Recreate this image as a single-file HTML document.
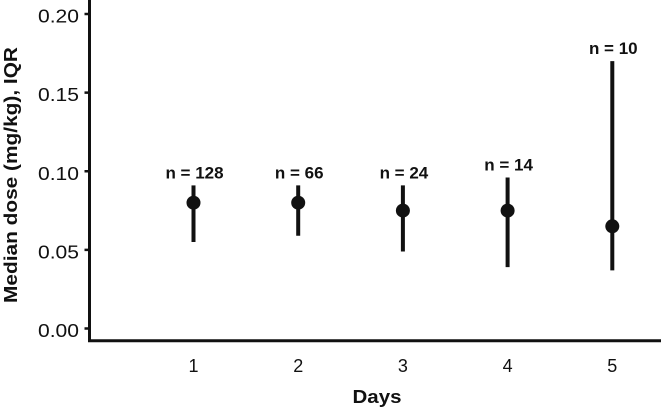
<!DOCTYPE html>
<html><head><meta charset="utf-8"><style>html,body{margin:0;padding:0;background:#fff}svg{display:block}</style></head>
<body>
<svg id="chart" width="662" height="409" xmlns="http://www.w3.org/2000/svg" font-family="Liberation Sans, sans-serif">
<g id="axes"></g>
<g id="marks"></g>
<text transform="translate(17,175) rotate(-90)" text-anchor="middle" font-size="18" font-weight="bold" fill="#111" textLength="256" lengthAdjust="spacingAndGlyphs">Median dose (mg/kg), IQR</text>
<text x="377" y="403" text-anchor="middle" font-size="18" font-weight="bold" fill="#111" textLength="49" lengthAdjust="spacingAndGlyphs">Days</text>
</svg>
<script>
const days = [1, 2, 3, 4, 5];
const medians = [0.080, 0.080, 0.075, 0.075, 0.065];
const q1 = [0.055, 0.059, 0.049, 0.039, 0.037];
const q3 = [0.091, 0.091, 0.091, 0.096, 0.170];
const nLabels = ["n = 128", "n = 66", "n = 24", "n = 14", "n = 10"];
const yTicks = [0, 0.05, 0.10, 0.15, 0.20];
const yTickLabels = ["0.00", "0.05", "0.10", "0.15", "0.20"];

const NS = "http://www.w3.org/2000/svg";
const xScale = d => 193.5 + (d - 1) * 104.7;
const yScale = v => 328.5 - v * 1572.5;
function mk(tag, attrs, parent) {
  const e = document.createElementNS(NS, tag);
  for (const k in attrs) e.setAttribute(k, attrs[k]);
  parent.appendChild(e);
  return e;
}
const axes = document.getElementById('axes');
const marks = document.getElementById('marks');
let l = mk('line', {x1: 89.5, y1: 0, x2: 89.5, y2: 342, stroke: '#111', 'stroke-width': 3}, axes);


l = mk('line', {x1: 88, y1: 340.7, x2: 661, y2: 340.7, stroke: '#111', 'stroke-width': 3}, axes);


yTicks.forEach((v, i) => {
  const y = yScale(v);
  const t = mk('line', {x1: 84.5, y1: y, x2: 89.5, y2: y, stroke: '#111', 'stroke-width': 2.5}, axes);
  
  
  const tx = mk('text', {x: 79, y: y + 8.5, 'text-anchor': 'end', 'font-size': 18, fill: '#111', textLength: 41, lengthAdjust: 'spacingAndGlyphs'}, axes);
  tx.textContent = yTickLabels[i];
  
  
});
days.forEach((d, i) => {
  const x = xScale(d);
  const tx = mk('text', {x: x, y: 372, 'text-anchor': 'middle', 'font-size': 18, fill: '#111'}, axes);
  tx.textContent = String(d);
  
  
  const bar = mk('line', {x1: x, y1: yScale(q1[i]), x2: x, y2: yScale(q3[i]), stroke: '#111', 'stroke-width': 4}, marks);
  
  
  const dot = mk('circle', {cx: x, cy: yScale(medians[i]), r: 7, fill: '#111'}, marks);
  
  
  const lab = mk('text', {x: x + 1, y: yScale(q3[i]) - 7, 'text-anchor': 'middle', 'font-size': 17, 'font-weight': 'bold', fill: '#111'}, marks);
  lab.textContent = nLabels[i];
  
  
});
</script>
</body></html>
